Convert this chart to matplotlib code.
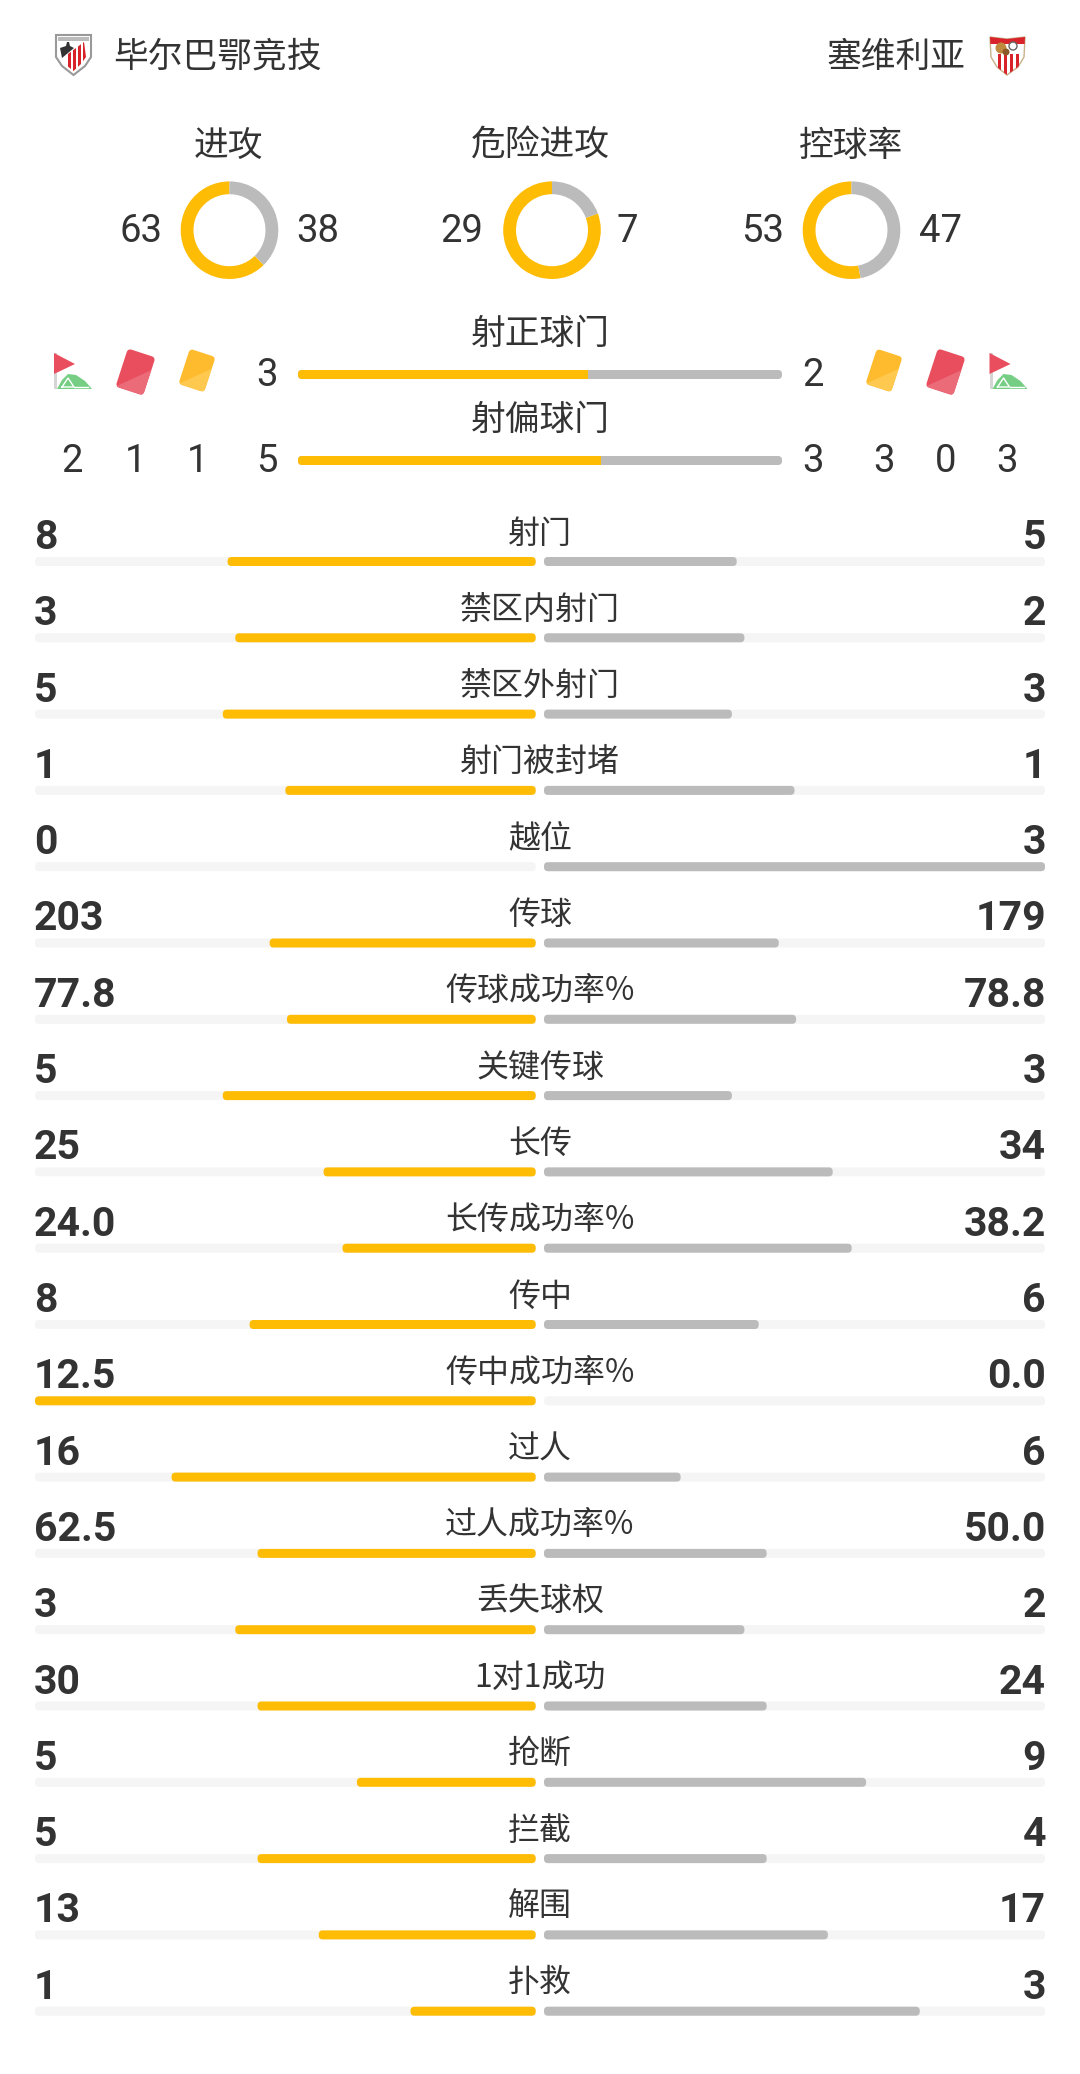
#!/usr/bin/env python
import matplotlib
matplotlib.use('AGG')
import matplotlib.pyplot as plt
from matplotlib.patches import FancyBboxPatch, Polygon, Rectangle, Circle
from matplotlib.transforms import Affine2D

team_home = '毕尔巴鄂竞技'
team_away = '塞维利亚'

donut_titles = ['进攻', '危险进攻', '控球率']
donut_home = [63, 29, 53]
donut_away = [38, 7, 47]

shot_titles = ['射正球门', '射偏球门']
shot_home = [3, 5]
shot_away = [2, 3]
# corner, red, yellow on the left, yellow, red, corner on the right
events_home = [2, 1, 1]
events_away = [3, 0, 3]

labels = ['射门', '禁区内射门', '禁区外射门', '射门被封堵', '越位', '传球', '传球成功率%',
          '关键传球', '长传', '长传成功率%', '传中', '传中成功率%', '过人', '过人成功率%',
          '丢失球权', '1对1成功', '抢断', '拦截', '解围', '扑救']
home = ['8', '3', '5', '1', '0', '203', '77.8', '5', '25', '24.0', '8', '12.5', '16', '62.5',
        '3', '30', '5', '5', '13', '1']
away = ['5', '2', '3', '1', '3', '179', '78.8', '3', '34', '38.2', '6', '0.0', '6', '50.0',
        '2', '24', '9', '4', '17', '3']

YELLOW = '#FFBC05'
GREY = '#BBBBBB'
TRACK = '#F5F5F5'
INK = '#333333'
CJK = ['Noto Sans CJK SC', 'DejaVu Sans']
NUM = ['Roboto', 'DejaVu Sans']

plt.rcParams['font.family'] = CJK

fig = plt.figure(figsize=(10.8, 20.74), dpi=100)
ax = fig.add_axes([0, 0, 1, 1])
ax.set_xlim(0, 1080)
ax.set_ylim(2074, 0)
ax.axis('off')


def rounded(x0, x1, y0, h, color, r=4):
    p = FancyBboxPatch((x0, y0), x1 - x0, h, boxstyle='round,pad=0,rounding_size=%s' % r,
                       fc=color, ec='none')
    ax.add_patch(p)
    return p


def card(cx, cy, w, h, color, light):
    rot = Affine2D().rotate_deg_around(cx, cy, 18) + ax.transData
    p = FancyBboxPatch((cx - w / 2, cy - h / 2), w, h, boxstyle='round,pad=0,rounding_size=4',
                       fc=color, ec='none', transform=rot)
    ax.add_patch(p)
    tri = Polygon([(cx - w / 2, cy + h / 2), (cx + w / 2, cy - h / 6), (cx + w / 2, cy + h / 2)],
                  fc=light, ec='none', transform=rot)
    ax.add_patch(tri)
    tri.set_clip_path(p)


def corner_flag(dx):
    ax.add_patch(Rectangle((54 + dx, 353), 3, 36, fc='#D5D5D5', ec='none'))
    ax.add_patch(Polygon([(54 + dx, 353), (75 + dx, 364), (54 + dx, 374)], fc='#E84E5E', ec='none'))
    ax.add_patch(Polygon([(57 + dx, 389), (62 + dx, 380), (68 + dx, 374), (76 + dx, 375),
                          (85 + dx, 381), (92 + dx, 389)], fc='#76CE85', ec='none'))
    ax.plot([62 + dx, 68 + dx, 74 + dx, 62 + dx], [387, 378, 387, 387], color='white', lw=1)
    ax.plot([74 + dx, 88 + dx], [387, 387], color='white', lw=1)


def crest_home():
    ax.add_patch(Polygon([(56, 35), (91, 35), (91, 57), (85, 66), (73.5, 75), (62, 66), (56, 57)],
                         fc='white', ec='#999999', lw=1.5))
    ax.add_patch(Polygon([(58, 37), (89, 37), (89, 41), (58, 41)], fc='#BBBBBB', ec='none'))
    shield = Polygon([(60, 60), (84, 42), (86, 57), (81, 64), (73.5, 71), (66, 65)],
                     fc='white', ec='none')
    ax.add_patch(shield)
    for x in [68, 73, 78, 83]:
        s = Polygon([(x, 71), (x + 2.5, 71), (x + 2.5, 42), (x, 42)], fc='#D8232A', ec='none')
        ax.add_patch(s)
        s.set_clip_path(shield)
    ax.add_patch(Polygon([(60, 48), (66, 46), (67, 42), (69, 42), (70, 46), (74, 48), (62, 58)],
                         fc='#333333', ec='none'))


def crest_away():
    outline = Polygon([(990, 37), (1007, 39), (1025, 37), (1024, 57), (1018, 67), (1007, 75),
                       (997, 67), (991, 57)], fc='white', ec='#C9B08A', lw=1)
    ax.add_patch(outline)
    top = Rectangle((990, 37), 35, 7, fc='#D8232A', ec='none')
    ax.add_patch(top)
    top.set_clip_path(outline)
    for x in [998, 1004, 1010, 1016]:
        s = Rectangle((x, 54), 3, 22, fc='#D8232A', ec='none')
        ax.add_patch(s)
        s.set_clip_path(outline)
    ax.add_patch(Circle((1001, 48), 5.5, fc='#C08A3E', ec='none'))
    ax.add_patch(Circle((1006, 52), 3.5, fc='#8A5A2B', ec='none'))
    ax.add_patch(Circle((1013, 46), 4, fc='white', ec='#666666', lw=1))


# header
crest_home()
crest_away()
ax.text(113.5, 67, team_home, fontsize=25, color=INK, ha='left', va='baseline')
ax.text(966, 67, team_away, fontsize=25, color=INK, ha='right', va='baseline')

# donuts
donut_x = [229.5, 552, 851.5]
title_x = [228.6, 540, 850.5]
home_x = [140.5, 462, 762.4]
away_x = [318, 627.4, 940]
for i in range(3):
    ax.text(title_x[i], 155.5, donut_titles[i], fontsize=25, color=INK, ha='center', va='baseline')
    ax.text(home_x[i], 242.5, str(donut_home[i]), fontsize=27.5, color=INK, family=NUM,
            ha='center', va='baseline')
    ax.text(away_x[i], 242.5, str(donut_away[i]), fontsize=27.5, color=INK, family=NUM,
            ha='center', va='baseline')
    sub = fig.add_axes([(donut_x[i] - 50) / 1080, 1 - 280.2 / 2074, 100 / 1080, 100 / 2074])
    sub.pie([donut_home[i], donut_away[i]], colors=[YELLOW, GREY], startangle=90,
            counterclock=True, radius=0.976, wedgeprops={'width': 0.256, 'linewidth': 0})
    sub.set_xlim(-1, 1)
    sub.set_ylim(-1, 1)

# shots on / off target
bar_y = [370, 456]
title_y = [343.5, 430]
num_y = [386.5, 472.5]
for i in range(2):
    ax.text(540, title_y[i], shot_titles[i], fontsize=25, color=INK, ha='center', va='baseline')
    ax.text(267, num_y[i], str(shot_home[i]), fontsize=27.5, color=INK, family=NUM,
            ha='center', va='baseline')
    ax.text(812.7, num_y[i], str(shot_away[i]), fontsize=27.5, color=INK, family=NUM,
            ha='center', va='baseline')
    whole = rounded(298, 782, bar_y[i], 9, GREY)
    split = 298 + 484 * shot_home[i] / (shot_home[i] + shot_away[i])
    part = Rectangle((298, bar_y[i]), split - 298, 9, fc=YELLOW, ec='none')
    ax.add_patch(part)
    part.set_clip_path(whole)

# event icons, one row above their counts
corner_flag(0)
card(135.5, 372, 29, 40, '#E84E5E', '#EB6B78')
card(197, 370.5, 27, 37, '#FFBB2E', '#FFC94F')
card(884, 370.5, 27, 37, '#FFBB2E', '#FFC94F')
card(945.5, 372, 29, 40, '#E84E5E', '#EB6B78')
corner_flag(935.5)
for x, v in zip([72.3, 135.7, 197.7], events_home):
    ax.text(x, 472.5, str(v), fontsize=27.5, color=INK, family=NUM, ha='center', va='baseline')
for x, v in zip([883.6, 945.6, 1006.9], events_away):
    ax.text(x, 472.5, str(v), fontsize=27.5, color=INK, family=NUM, ha='center', va='baseline')

# stat rows
for i, name in enumerate(labels):
    y = 557 + i * 76.3
    a, b = float(home[i]), float(away[i])
    rounded(35, 535.7, y, 9, TRACK)
    rounded(544, 1045, y, 9, TRACK)
    if a > 0:
        rounded(535.7 - 500.7 * a / (a + b), 535.7, y, 9, YELLOW)
    if b > 0:
        rounded(544, 544 + 501 * b / (a + b), y, 9, GREY)
    ax.text(540, y - 14.5, name, fontsize=23, color=INK, ha='center', va='baseline')
    ax.text(34, y - 8, home[i], fontsize=29.5, color=INK, family=NUM, weight='bold',
            ha='left', va='baseline')
    ax.text(1046, y - 8, away[i], fontsize=29.5, color=INK, family=NUM, weight='bold',
            ha='right', va='baseline')

plt.savefig('out.png', dpi=100, facecolor='white')
plt.close()
